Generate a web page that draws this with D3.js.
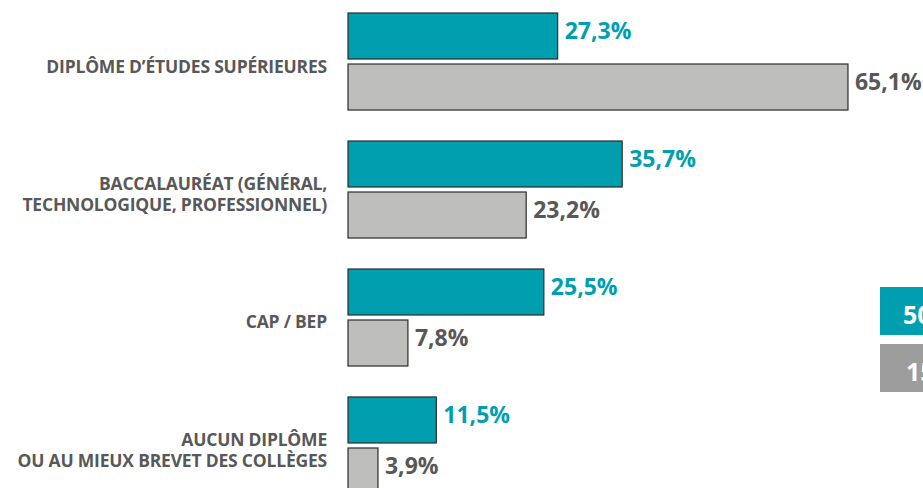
<!DOCTYPE html>
<html>
<head>
<meta charset="utf-8">
<script src="https://cdn.jsdelivr.net/npm/d3@7"></script>
<style>
body { margin: 0; background: #fff; }
text { font-family: "Open Sans", sans-serif; font-weight: 700; }
</style>
</head>
<body>
<script>
var w = 923;
var h = 488;

// categories (label lines) and the two series
var categories = ["sup", "bac", "cap", "aucun"];
var labels = [
  ["DIPLÔME D’ÉTUDES SUPÉRIEURES"],
  ["BACCALAURÉAT (GÉNÉRAL,", "TECHNOLOGIQUE, PROFESSIONNEL)"],
  ["CAP / BEP"],
  ["AUCUN DIPLÔME", "OU AU MIEUX BREVET DES COLLÈGES"]
];
var seriesA = [27.3, 35.7, 25.5, 11.5];
var seriesB = [65.1, 23.2, 7.8, 3.9];
var legendLabels = ["50 ANS ET PLUS", "15-49 ANS"];

var teal = "#009fb0";
var barGrey = "#bebfbc";
var textGrey = "#585858";

var svg = d3.select("body")
  .append("svg")
  .attr("width", w)
  .attr("height", h);

var x = d3.scaleLinear()
  .domain([0, 100])
  .range([348, 1116]);

var y = d3.scaleBand()
  .domain(categories)
  .range([13, 494])
  .paddingInner(0.242)
  .paddingOuter(0);

var ySub = d3.scaleBand()
  .domain(["a", "b"])
  .range([0, y.bandwidth()])
  .paddingInner(0.098);

var rows = categories.map(function(c, i) {
  return { key: c, label: labels[i], a: seriesA[i], b: seriesB[i] };
});

var g = svg.selectAll("g.row")
  .data(rows)
  .enter().append("g")
  .attr("class", "row")
  .attr("transform", function(d) { return "translate(0," + y(d.key) + ")"; });

// bars
g.append("rect")
  .attr("x", x(0))
  .attr("y", ySub("a"))
  .attr("width", function(d) { return x(d.a) - x(0); })
  .attr("height", ySub.bandwidth())
  .attr("fill", teal)
  .attr("stroke", "#2b2b2b")
  .attr("stroke-width", 1.2);

g.append("rect")
  .attr("x", x(0))
  .attr("y", ySub("b"))
  .attr("width", function(d) { return x(d.b) - x(0); })
  .attr("height", ySub.bandwidth())
  .attr("fill", barGrey)
  .attr("stroke", "#2b2b2b")
  .attr("stroke-width", 1.2);

// value labels
var fmt = function(v) { return d3.format(".1f")(v).replace(".", ",") + "%"; };

g.append("text")
  .attr("x", function(d) { return x(d.a) + 7; })
  .attr("y", ySub("a") + ySub.bandwidth() / 2 + 3)
  .attr("fill", teal)
  .attr("font-size", 23)
  .text(function(d) { return fmt(d.a); });

g.append("text")
  .attr("x", function(d) { return x(d.b) + 7; })
  .attr("y", ySub("b") + ySub.bandwidth() / 2 + 3)
  .attr("fill", textGrey)
  .attr("font-size", 23)
  .text(function(d) { return fmt(d.b); });

// category labels
var lab = g.append("text")
  .attr("text-anchor", "end")
  .attr("fill", textGrey)
  .attr("font-size", 17.5)
  .attr("letter-spacing", -0.2);

lab.selectAll("tspan")
  .data(function(d) { return d.label; })
  .enter().append("tspan")
  .attr("x", 327)
  .attr("y", function(l, i, nodes) {
    var n = nodes.length;
    return y.bandwidth() / 2 + 11 - (n - 1) * 10.5 + i * 21;
  })
  .text(function(l) { return l; });

// legend (cut off at right edge, as in the original)
var legend = svg.append("g").attr("class", "legend");
legend.selectAll("rect")
  .data(legendLabels)
  .enter().append("rect")
  .attr("x", 880)
  .attr("y", function(d, i) { return 287 + i * 57; })
  .attr("width", 200)
  .attr("height", 48)
  .attr("fill", function(d, i) { return i === 0 ? teal : "#9d9d9d"; });

legend.selectAll("text")
  .data(legendLabels)
  .enter().append("text")
  .attr("x", function(d, i) { return i === 0 ? 903 : 906; })
  .attr("y", function(d, i) { return 324 + i * 57; })
  .attr("fill", "#fff")
  .attr("font-size", 25)
  .text(function(d) { return d; });
</script>
</body>
</html>
